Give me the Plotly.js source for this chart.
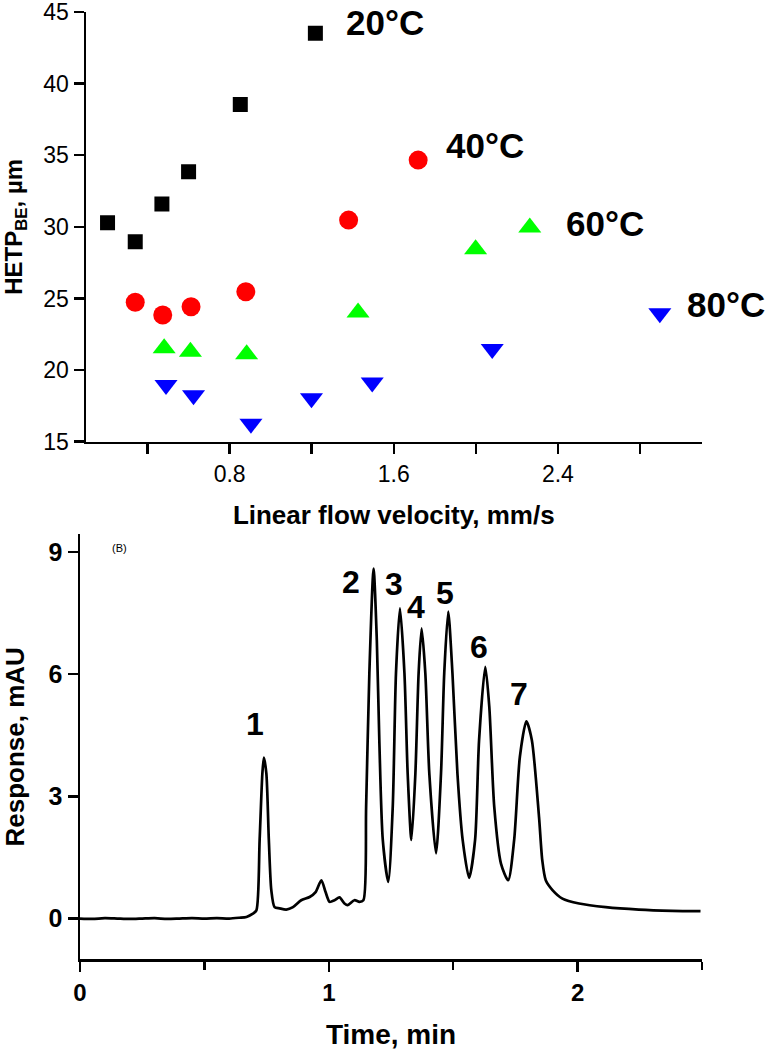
<!DOCTYPE html>
<html>
<head>
<meta charset="utf-8">
<script src="https://cdn.plot.ly/plotly-3.0.1.min.js"></script>
<style>html,body{margin:0;padding:0;background:#fff;}#chart{width:765px;height:1050px;}</style>
</head>
<body>
<div id="chart"></div>
<script>
// ---- Panel A: HETP vs linear flow velocity ----
const velocity20 = [0.205, 0.340, 0.470, 0.600, 0.852, 1.218];
const hetp20     = [30.29, 28.96, 31.59, 33.85, 38.55, 43.51];
const velocity40 = [0.340, 0.474, 0.612, 0.879, 1.380, 1.719];
const hetp40     = [24.73, 23.84, 24.42, 25.47, 30.47, 34.66];
const velocity60 = [0.481, 0.609, 0.883, 1.426, 1.999, 2.263];
const hetp60     = [21.52, 21.28, 21.10, 24.02, 28.44, 29.95];
const velocity80 = [0.490, 0.624, 0.904, 1.199, 1.495, 2.080, 2.897];
const hetp80     = [18.95, 18.25, 16.26, 18.03, 19.14, 21.47, 23.96];
const tempLabels = ["20°C", "40°C", "60°C", "80°C"];
const tempLabelX = [1.356, 1.844, 2.429, 3.018];
const tempLabelY = [44.27, 35.71, 30.20, 24.61];

// ---- Panel B: chromatogram ----
const timeMin = [0, 0.05, 0.10, 0.15, 0.20, 0.25, 0.30, 0.35, 0.40, 0.45, 0.50, 0.55, 0.60, 0.64, 0.669, 0.695,
  0.709, 0.722, 0.733, 0.739, 0.749, 0.759, 0.769, 0.782, 0.802, 0.829, 0.856, 0.889, 0.923, 0.947, 0.970, 0.987,
  1.003, 1.023, 1.043, 1.063, 1.076, 1.103, 1.123, 1.139, 1.150, 1.163, 1.180, 1.193, 1.203, 1.217, 1.239,
  1.257, 1.270, 1.286, 1.304, 1.317, 1.332, 1.348, 1.361, 1.373, 1.388, 1.404, 1.431, 1.451, 1.464, 1.480,
  1.497, 1.517, 1.538, 1.564, 1.588, 1.604, 1.629, 1.645, 1.665, 1.692, 1.721, 1.745, 1.768, 1.794, 1.816,
  1.845, 1.858, 1.872, 1.899, 1.939, 2.006, 2.113, 2.246, 2.380, 2.494];
const responseMAU = [0.00, -0.01, 0.01, 0.00, -0.01, 0.00, 0.01, -0.01, 0.00, 0.01, 0.00, 0.01, 0.00, 0.02, 0.04, 0.12,
  0.20, 1.93, 3.56, 3.95, 3.56, 1.93, 0.69, 0.28, 0.25, 0.22, 0.28, 0.45, 0.53, 0.65, 0.94, 0.65,
  0.41, 0.45, 0.52, 0.37, 0.33, 0.45, 0.41, 0.45, 2.74, 6.02, 8.59, 6.83, 4.38, 1.93, 0.90,
  2.74, 6.02, 7.61, 6.02, 3.56, 1.93, 3.56, 6.02, 7.12, 6.02, 3.56, 1.60, 3.56, 6.02, 7.53,
  6.02, 3.56, 1.93, 1.00, 1.93, 4.38, 6.18, 5.20, 2.74, 1.35, 0.94, 1.93, 3.97, 4.84, 4.38,
  2.49, 1.43, 0.94, 0.70, 0.49, 0.37, 0.28, 0.22, 0.19, 0.18];
const peakLabels = ["1", "2", "3", "4", "5", "6", "7"];
const peakLabelT = [0.702, 1.090, 1.264, 1.351, 1.468, 1.602, 1.765];
const peakLabelV = [4.77, 8.26, 8.21, 7.65, 7.98, 6.67, 5.52];

const FONT = "Liberation Sans, Arial, Helvetica, sans-serif";
const PAD = "\u00a0\u00a0\u00a0\u00a0\u00a0";

function sc(x, y, sym, color, size) {
  return {type: "scatter", mode: "markers", x: x, y: y, xaxis: "x", yaxis: "y",
    marker: {symbol: sym, color: color, size: size, line: {width: 0}}, hoverinfo: "x+y"};
}

const traces = [
  sc(velocity20, hetp20, "square", "#000000", 15),
  sc(velocity40, hetp40, "circle", "#ff0000", 19),
  sc(velocity60, hetp60, "triangle-up", "#00ff00", 20),
  sc(velocity80, hetp80, "triangle-down", "#0000ff", 20),
  {type: "scatter", mode: "lines", x: timeMin, y: responseMAU, xaxis: "x2", yaxis: "y2",
    line: {color: "#000000", width: 2.7, shape: "spline", smoothing: 0.7}, hoverinfo: "x+y"}
];

const annotations = [];
tempLabels.forEach((t, i) => annotations.push({
  text: t, x: tempLabelX[i], y: tempLabelY[i], xref: "x", yref: "y",
  xanchor: "left", yanchor: "middle", showarrow: false,
  font: {family: FONT, size: 35, color: "#000", weight: "bold"}
}));
peakLabels.forEach((t, i) => annotations.push({
  text: t, x: peakLabelT[i], y: peakLabelV[i], xref: "x2", yref: "y2",
  xanchor: "center", yanchor: "middle", showarrow: false,
  font: {family: FONT, size: 32, color: "#000", weight: "bold"}
}));
annotations.push({text: "(B)", x: 119/765, y: 1 - 548.3/1050, xref: "paper", yref: "paper",
  xanchor: "center", yanchor: "middle", showarrow: false,
  font: {family: FONT, size: 11, color: "#000"}});

const axBase = {showline: true, linecolor: "#000", linewidth: 2.5, ticks: "outside",
  ticklen: 10, tickwidth: 2.5, tickcolor: "#000", showgrid: false, zeroline: false, mirror: false,
  ticklabeloverflow: "allow", automargin: false};

const layout = {
  width: 765, height: 1050,
  margin: {l: 0, r: 0, t: 0, b: 0},
  paper_bgcolor: "#fff", plot_bgcolor: "#fff",
  showlegend: false,
  font: {family: FONT, color: "#000"},
  xaxis: Object.assign({}, axBase, {
    domain: [86/765, 701.5/765], anchor: "y", range: [0.1, 3.1],
    tickmode: "linear", tick0: 0, dtick: 0.8, tickformat: ".1f",
    minor: {dtick: 0.4, tick0: 0, ticks: "outside", ticklen: 10, tickwidth: 2.5, tickcolor: "#000"},
    tickfont: {family: FONT, size: 23, color: "#000"},
    title: {text: "Linear flow velocity, mm/s", standoff: 20,
      font: {family: FONT, size: 26, color: "#000", weight: "bold"}}
  }),
  yaxis: Object.assign({}, axBase, {
    domain: [1 - 441.7/1050, 1 - 12/1050], anchor: "x", range: [15, 45],
    tickmode: "array", tickvals: [15, 20, 25, 30, 35, 40, 45],
    ticktext: ["15", "20", "25", "30", "35", "40", "45"],
    tickfont: {family: FONT, size: 23, color: "#000"},
    title: {text: "HETP<sub>BE</sub>, µm" + PAD, standoff: 19,
      font: {family: FONT, size: 24, color: "#000", weight: "bold"}}
  }),
  xaxis2: Object.assign({}, axBase, {
    domain: [80/765, 702/765], anchor: "y2", range: [0, 2.5],
    tickmode: "linear", tick0: 0, dtick: 1,
    minor: {dtick: 0.5, tick0: 0, ticks: "outside", ticklen: 8, tickwidth: 2.5, tickcolor: "#000"},
    tickfont: {family: FONT, size: 24, color: "#000", weight: "bold"},
    title: {text: "Time, min", standoff: 20,
      font: {family: FONT, size: 28, color: "#000", weight: "bold"}}
  }),
  yaxis2: Object.assign({}, axBase, {
    domain: [1 - 959.3/1050, 1 - 534.3/1050], anchor: "x2", range: [-1, 9.43],
    tickmode: "array", tickvals: [0, 3, 6, 9], ticktext: ["0", "3", "6", "9"],
    tickfont: {family: FONT, size: 25, color: "#000", weight: "bold"},
    title: {text: "Response, mAU" + PAD, standoff: 18,
      font: {family: FONT, size: 26, color: "#000", weight: "bold"}}
  }),
  annotations: annotations
};

Plotly.newPlot("chart", traces, layout, {staticPlot: true, displayModeBar: false});
</script>
</body>
</html>
